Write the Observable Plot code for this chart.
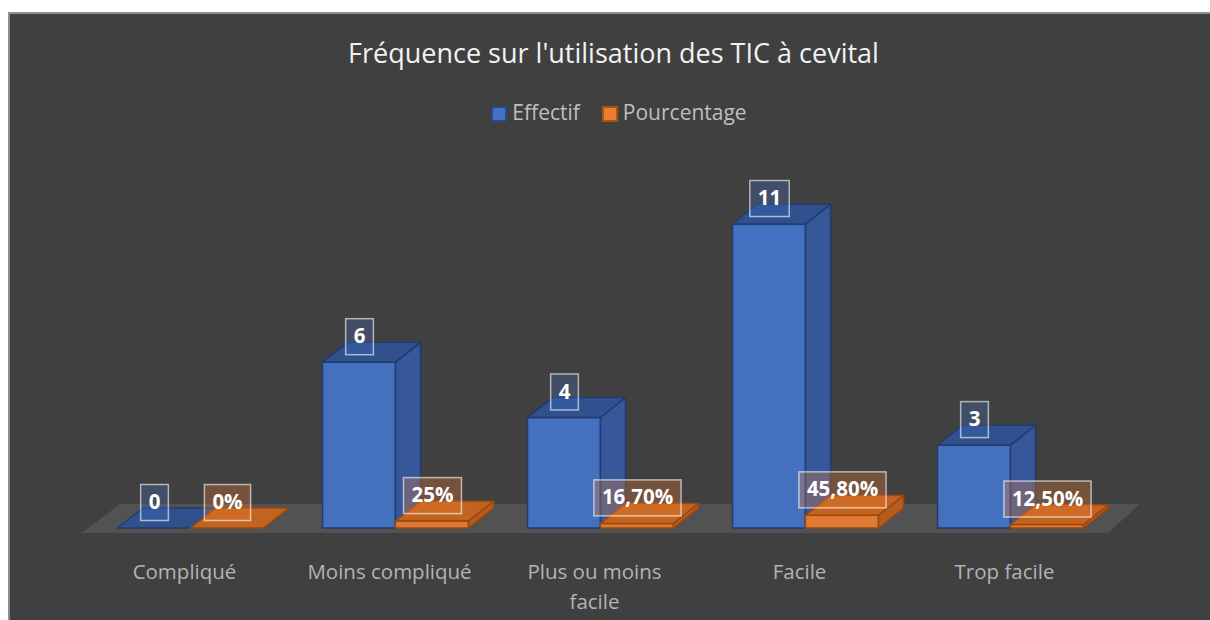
<!DOCTYPE html>
<html>
<head>
<meta charset="utf-8">
<script src="https://cdn.jsdelivr.net/npm/d3@7"></script>
<script src="https://cdn.jsdelivr.net/npm/@observablehq/plot@0.6"></script>
<style>
  html, body { margin: 0; padding: 0; background: #ffffff; width: 1210px; height: 620px; overflow: hidden; position: relative; font-family: "Open Sans", sans-serif; }
  #frame { position: absolute; left: 8px; top: 12px; width: 1300px; height: 700px; background: #404040; border-top: 2px solid #8e8e8e; border-left: 2px solid #8e8e8e; box-sizing: border-box; }
  #title { position: absolute; left: 0; width: 1227px; top: 39px; text-align: center; font-size: 27px; line-height: 27px; color: #f2f2f2; white-space: nowrap; }
  #legend { position: absolute; left: 0; width: 1238px; top: 102px; display: flex; justify-content: center; align-items: center; font-size: 21px; line-height: 21px; color: #bfbfbf; }
  #legend .item { display: flex; align-items: center; margin: 0 11px; }
  #legend .sw { width: 12px; height: 12px; border-width: 2px; border-style: solid; margin-right: 5px; margin-top: 2px; }
  #chart { position: absolute; left: 0; top: 140px; }
</style>
</head>
<body>
<div id="frame"></div>
<div id="title">Fréquence sur l'utilisation des TIC à cevital</div>
<div id="legend"></div>
<div id="chart"></div>
<script>
// ---- data ----
const categories = ["Compliqué", "Moins compliqué", "Plus ou moins\nfacile", "Facile", "Trop facile"];
const seriesNames = ["Effectif", "Pourcentage"];
const effectif = [0, 6, 4, 11, 3];
const effectifLabels = ["0", "6", "4", "11", "3"];
const pourcentage = [0, 0.25, 0.167, 0.458, 0.125];
const pourcentageLabels = ["0%", "25%", "16,70%", "45,80%", "12,50%"];

// ---- styles ----
const palette = {
  Effectif:    {front: "#4470c0", side: "#36589a", top: "#30508e", stroke: "#223b6e", box: "rgba(68,114,196,0.28)", swatch: "#4472c4", swStroke: "#2a4a86"},
  Pourcentage: {front: "#e07a33", side: "#b65c1c", top: "#c2641f", stroke: "#9a4710", box: "rgba(237,125,49,0.30)", swatch: "#ed7d31", swStroke: "#a9531a"}
};

// legend
const legend = document.getElementById("legend");
for (const s of seriesNames) {
  const it = document.createElement("div"); it.className = "item";
  const sw = document.createElement("div"); sw.className = "sw";
  sw.style.background = palette[s].swatch; sw.style.borderColor = palette[s].swStroke;
  const tx = document.createElement("span"); tx.textContent = s;
  it.appendChild(sw); it.appendChild(tx); legend.appendChild(it);
}

// ---- geometry of the 3D look (in scale units) ----
const BAR_W = 0.356;   // bar width (x units)
const DX = 0.122;      // depth offset along x
const DY = 0.72;       // depth offset along y

const valuesBy = {Effectif: effectif, Pourcentage: pourcentage};
const labelsBy = {Effectif: effectifLabels, Pourcentage: pourcentageLabels};

function barsOf(s, k) {
  return categories.map((c, i) => {
    const x1 = k === 0 ? i - BAR_W : i;
    return {key: s + i, cat: c, value: valuesBy[s][i], label: labelsBy[s][i], x1, x2: x1 + BAR_W, xc: x1 + BAR_W / 2};
  });
}

function sideFaces(rows) {
  return rows.flatMap(d => [
    {key: d.key, x: d.x2, y1: 0, y2: d.value},
    {key: d.key, x: d.x2 + DX, y1: DY, y2: d.value + DY}
  ]);
}
function topFaces(rows) {
  return rows.flatMap(d => [
    {key: d.key, y: d.value, x1: d.x1, x2: d.x2},
    {key: d.key, y: d.value + DY, x1: d.x1 + DX, x2: d.x2 + DX}
  ]);
}

function boxedLabels(rows, boxFill) {
  return Plot.text(rows, {
    x: "xc", y: "value", text: "label", dy: -26,
    fill: "white", fontSize: 20.5, fontWeight: "bold", fontFamily: "Open Sans",
    render(index, scales, values, dimensions, context, next) {
      const g = next(index, scales, values, dimensions, context);
      const ctx = document.createElement("canvas").getContext("2d");
      ctx.font = "bold 20.5px 'Open Sans'";
      const first = g.firstChild;
      for (const i of index) {
        const w = ctx.measureText(rows[i].label).width + 16;
        const h = 36;
        const r = document.createElementNS("http://www.w3.org/2000/svg", "rect");
        r.setAttribute("x", values.x[i] - w / 2);
        r.setAttribute("y", values.y[i] - h / 2);
        r.setAttribute("width", w);
        r.setAttribute("height", h);
        r.setAttribute("fill", boxFill);
        r.setAttribute("stroke", "rgba(255,255,255,0.6)");
        r.setAttribute("stroke-width", 1.5);
        g.insertBefore(r, first);
      }
      return g;
    }
  });
}

const floor = [
  {y: -0.18, x1: -0.53, x2: 4.476},
  {y: 0.87, x1: -0.344, x2: 4.632}
];

const marks = [
  Plot.areaX(floor, {y: "y", x1: "x1", x2: "x2", fill: "#525252"})
];
seriesNames.forEach((s, k) => {
  const rows = barsOf(s, k);
  const p = palette[s];
  marks.push(
    Plot.rect(rows, {x1: "x1", x2: "x2", y1: 0, y2: "value", fill: p.front, stroke: p.stroke, strokeWidth: 1.5, strokeLinejoin: "round"}),
    Plot.areaY(sideFaces(rows), {x: "x", y1: "y1", y2: "y2", z: "key", fill: p.side, stroke: p.stroke, strokeWidth: 1.5, strokeLinejoin: "round"}),
    Plot.areaX(topFaces(rows), {y: "y", x1: "x1", x2: "x2", z: "key", fill: p.top, stroke: p.stroke, strokeWidth: 1.5, strokeLinejoin: "round"})
  );
});
seriesNames.forEach((s, k) => {
  marks.push(boxedLabels(barsOf(s, k), palette[s].box));
});
marks.push(
  Plot.axisX({
    ticks: categories.map((c, i) => i),
    tickFormat: i => categories[i],
    tickSize: 0, tickPadding: 29, dx: -6.5,
    fontSize: 20.5, lineHeight: 1.46, color: "#b3b3b3",
    fontFamily: "Open Sans", label: null
  })
);

const chart = Plot.plot({
  width: 1210,
  height: 480,
  marginTop: 0,
  marginBottom: 92,
  marginLeft: 0,
  marginRight: 0,
  x: {type: "linear", domain: [-0.5, 4.5], range: [88, 1113]},
  y: {type: "linear", domain: [0, 12], range: [388, 56.4], axis: null},
  style: {background: "transparent", fontFamily: "Open Sans", overflow: "visible"},
  marks
});
document.getElementById("chart").appendChild(chart);
</script>
</body>
</html>
